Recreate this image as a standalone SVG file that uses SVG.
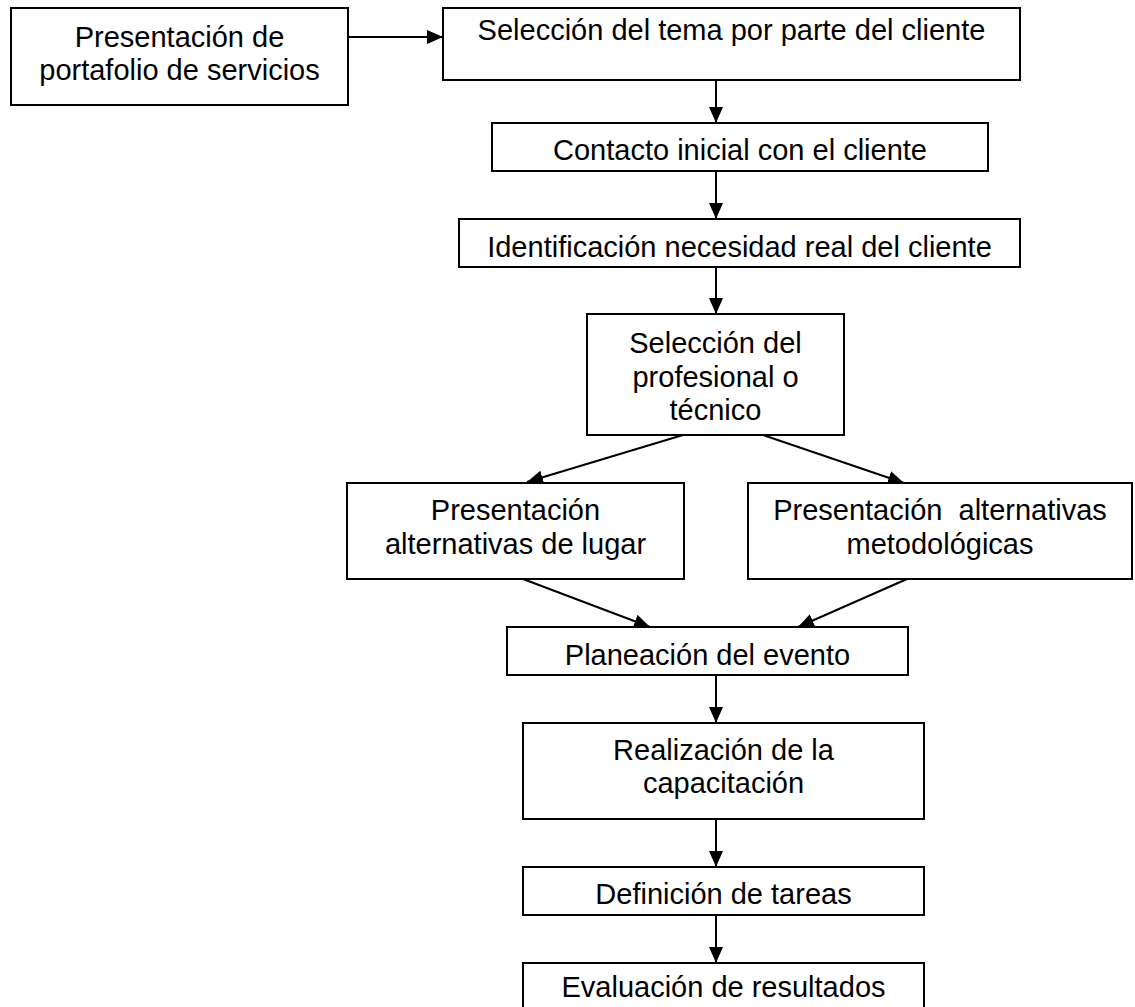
<svg xmlns="http://www.w3.org/2000/svg" width="1135" height="1007" viewBox="0 0 1135 1007">
<style>
  .box { fill: #ffffff; stroke: #000000; stroke-width: 2; }
  .lbl { font-family: "Liberation Sans", Arial, sans-serif; font-size: 29px; fill: #000000; text-anchor: middle; }
  .con { stroke: #000000; stroke-width: 2; fill: none; marker-end: url(#arr); }
</style>
<defs>
  <marker id="arr" markerUnits="userSpaceOnUse" markerWidth="16" markerHeight="16" viewBox="0 0 16 14" refX="16" refY="7" orient="auto">
    <path d="M0,0 L16,7 L0,14 Z" fill="#000000"/>
  </marker>
</defs>
<rect width="1135" height="1007" fill="#ffffff"/>
<g id="connectors">
  <line class="con" x1="348" y1="37" x2="443" y2="37"/>
  <line class="con" x1="716" y1="80" x2="716" y2="123"/>
  <line class="con" x1="716" y1="171" x2="716" y2="219"/>
  <line class="con" x1="716" y1="267" x2="716" y2="314"/>
  <line class="con" x1="683" y1="435" x2="527" y2="482"/>
  <line class="con" x1="763" y1="435" x2="904" y2="483"/>
  <line class="con" x1="523" y1="579" x2="650" y2="627"/>
  <line class="con" x1="907" y1="579" x2="798" y2="627"/>
  <line class="con" x1="716" y1="675" x2="716" y2="723"/>
  <line class="con" x1="716" y1="819" x2="716" y2="867"/>
  <line class="con" x1="716" y1="915" x2="716" y2="963"/>
</g>
<g id="n1">
  <rect class="box" x="11" y="8" width="337" height="97"/>
  <text class="lbl" x="179.5" y="47">Presentación de</text>
  <text class="lbl" x="179.5" y="80">portafolio de servicios</text>
</g>
<g id="n2">
  <rect class="box" x="443" y="8" width="577" height="72"/>
  <text class="lbl" x="731.5" y="40">Selección del tema por parte del cliente</text>
</g>
<g id="n3">
  <rect class="box" x="492" y="123" width="496" height="48"/>
  <text class="lbl" x="740" y="160">Contacto inicial con el cliente</text>
</g>
<g id="n4">
  <rect class="box" x="459" y="219" width="561" height="48"/>
  <text class="lbl" x="739.5" y="257">Identificación necesidad real del cliente</text>
</g>
<g id="n5">
  <rect class="box" x="587" y="314" width="257" height="121"/>
  <text class="lbl" x="715.5" y="353">Selección del</text>
  <text class="lbl" x="715.5" y="387">profesional o</text>
  <text class="lbl" x="715.5" y="420">técnico</text>
</g>
<g id="n6">
  <rect class="box" x="347" y="483" width="337" height="96"/>
  <text class="lbl" x="515.5" y="520">Presentación</text>
  <text class="lbl" x="515.5" y="554">alternativas de lugar</text>
</g>
<g id="n7">
  <rect class="box" x="748" y="483" width="384" height="96"/>
  <text class="lbl" x="940" y="520" xml:space="preserve">Presentación  alternativas</text>
  <text class="lbl" x="940" y="554">metodológicas</text>
</g>
<g id="n8">
  <rect class="box" x="507" y="627" width="401" height="48"/>
  <text class="lbl" x="707.5" y="665">Planeación del evento</text>
</g>
<g id="n9">
  <rect class="box" x="523" y="723" width="401" height="96"/>
  <text class="lbl" x="723.5" y="760">Realización de la</text>
  <text class="lbl" x="723.5" y="793">capacitación</text>
</g>
<g id="n10">
  <rect class="box" x="523" y="867" width="401" height="48"/>
  <text class="lbl" x="723.5" y="904">Definición de tareas</text>
</g>
<g id="n11">
  <rect class="box" x="523" y="963" width="401" height="60"/>
  <text class="lbl" x="723.5" y="997">Evaluación de resultados</text>
</g>
</svg>
